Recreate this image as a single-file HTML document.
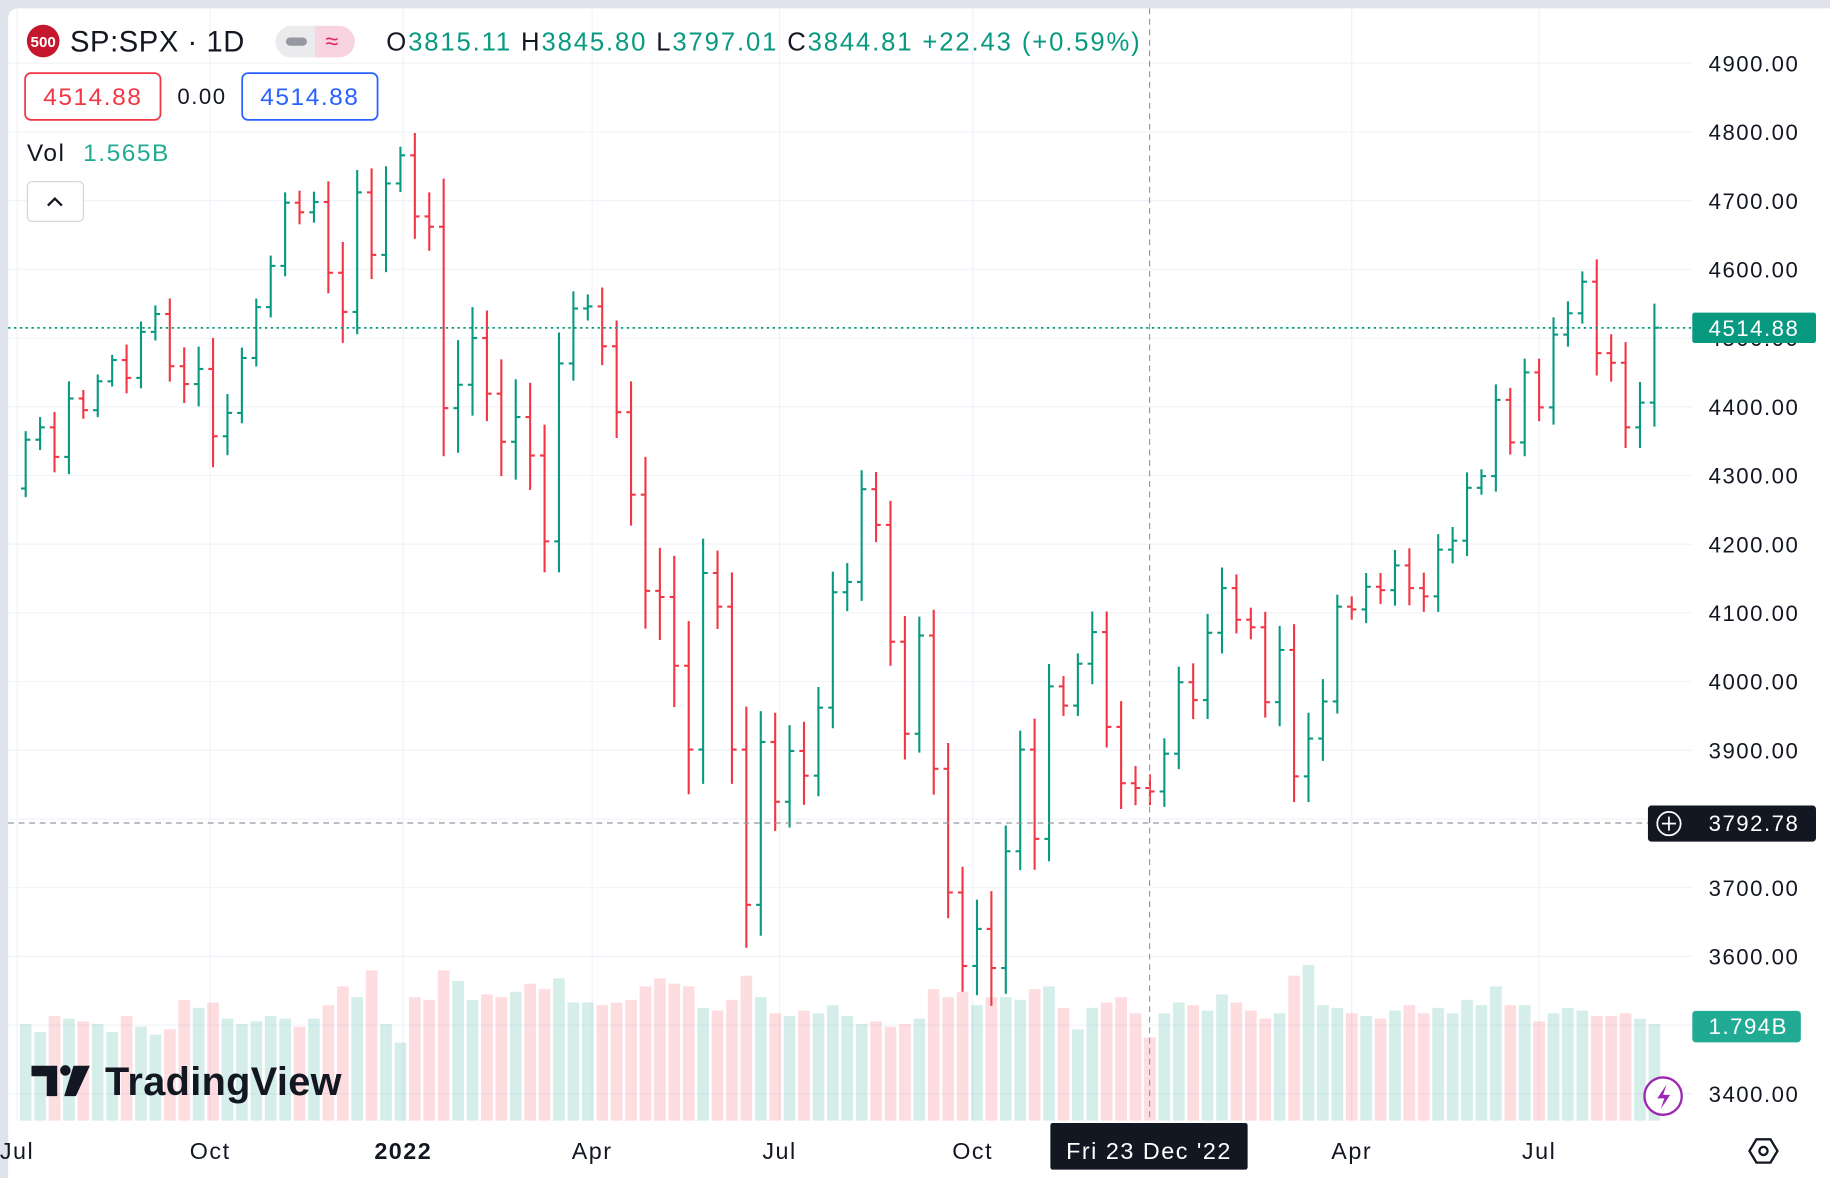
<!DOCTYPE html>
<html><head><meta charset="utf-8">
<style>
html,body{margin:0;padding:0;background:#e0e3eb;overflow:hidden}
svg{display:block;font-family:"Liberation Sans",sans-serif;letter-spacing:1.3px}
</style></head>
<body>
<svg id="c" width="1830" height="1178" viewBox="0 0 1568 1009" xmlns="http://www.w3.org/2000/svg">
<rect x="0" y="0" width="1568" height="1009" fill="#e0e3eb"/>
<rect x="7" y="7" width="1570" height="1010" rx="8" fill="#ffffff"/>
<g id="grid"></g>
<g id="vol"></g>
<g id="bars"></g>
<g id="yaxis"></g>
<g id="xaxis"></g>
<line x1="985" y1="7" x2="985" y2="960" stroke="#9598a1" stroke-width="1" stroke-dasharray="5,4"/>
<line x1="7" y1="705" x2="1450" y2="705" stroke="#9598a1" stroke-width="1" stroke-dasharray="5,4"/>
<line id="lastline" x1="7" x2="1450" stroke="#089981" stroke-width="1.5" stroke-dasharray="2,3"/>
<g id="lastlabel"></g>
<g>
<rect x="1412" y="690" width="144" height="31" rx="3" fill="#131722"/>
<circle cx="1430" cy="705.5" r="10" fill="none" stroke="#fff" stroke-width="1.5"/>
<line x1="1424" y1="705.5" x2="1436" y2="705.5" stroke="#fff" stroke-width="1.5"/>
<line x1="1430" y1="699.5" x2="1430" y2="711.5" stroke="#fff" stroke-width="1.5"/>
<text x="1464" y="712" font-size="19" fill="#fff">3792.78</text>
</g>
<g>
<rect x="1450" y="866" width="93" height="27" rx="3" fill="#22ab94"/>
<text x="1464" y="886" font-size="19" fill="#fff">1.794B</text>
</g>
<g>
<rect x="900" y="962" width="169" height="40" rx="2" fill="#131722"/>
<text x="984.5" y="993" font-size="20" fill="#fff" text-anchor="middle">Fri 23 Dec '22</text>
</g>
<g>
<circle cx="37" cy="35" r="14" fill="#c4162c"/>
<text x="37" y="40" font-size="13" font-weight="bold" fill="#fff" text-anchor="middle" letter-spacing="0">500</text>
<text x="60" y="44" font-size="25" fill="#131722" letter-spacing="0.5">SP:SPX · 1D</text>
<rect x="236" y="22" width="68" height="27" rx="13.5" fill="#ebebee"/>
<path d="M270 22 h20.5 a13.5 13.5 0 0 1 0 27 h-20.5z" fill="#f7d4e0"/>
<rect x="245" y="32" width="18" height="7" rx="3.5" fill="#9598a1"/>
<text x="285" y="42" font-size="20" fill="#e0245e" text-anchor="middle">≈</text>
<text x="331" y="43" font-size="22" fill="#131722" letter-spacing="1.6">O<tspan fill="#089981">3815.11</tspan> H<tspan fill="#089981">3845.80</tspan> L<tspan fill="#089981">3797.01</tspan> C<tspan fill="#089981">3844.81 +22.43 (+0.59%)</tspan></text>
</g>
<g>
<rect x="21.5" y="62.5" width="116" height="40" rx="5" fill="#fff" stroke="#f23645" stroke-width="1.5"/>
<text x="79.5" y="90" font-size="21" fill="#f23645" text-anchor="middle">4514.88</text>
<text x="152" y="89" font-size="19" fill="#131722">0.00</text>
<rect x="207.5" y="62.5" width="116" height="40" rx="5" fill="#fff" stroke="#2962ff" stroke-width="1.5"/>
<text x="265.5" y="90" font-size="21" fill="#2962ff" text-anchor="middle">4514.88</text>
</g>
<text x="23" y="138" font-size="21" fill="#131722">Vol <tspan dx="8" fill="#22ab94">1.565B</tspan></text>
<g>
<rect x="23.5" y="155.5" width="48" height="34" rx="4" fill="#fff" stroke="#d1d4dc"/>
<path d="M41 176 l6 -6 l6 6" fill="none" stroke="#131722" stroke-width="2"/>
</g>
<g>
<path d="M27 913 h22 v26 h-9 v-17 h-13z" fill="#131722"/>
<circle cx="56" cy="917" r="4.5" fill="#131722"/>
<path d="M63 913 h14 l-12 26 h-10z" fill="#131722"/>
<text x="90" y="938" font-size="34" font-weight="bold" fill="#131722" letter-spacing="0.3">TradingView</text>
</g>
<g>
<circle cx="1425" cy="939" r="16" fill="#fff" stroke="#9c27b0" stroke-width="2"/>
<path d="M1428 929 l-8 12 h6 l-3 9 l8 -12 h-6z" fill="#9c27b0"/>
</g>
<g>
<path d="M1499 986 l6 -10 h12 l6 10 l-6 10 h-12z" fill="none" stroke="#131722" stroke-width="2"/>
<circle cx="1511" cy="986" r="3.5" fill="none" stroke="#131722" stroke-width="2"/>
</g>
<script>
const startClose = 4281;
const closes = [4352,4370,4327,4412,4395,4437,4468,4442,4509,4535,4459,4433,4455,4357,4391,4471,4545,4605,4697,4683,4698,4595,4538,4712,4621,4725,4766,
4677,4662,4398,4432,4500,4419,4349,4385,4329,4204,4463,4543,4546,4488,4392,4272,4132,4123,4023,3901,4158,4109,3901,3675,3912,3825,3899,3863,3962,4130,4145,4280,4228,4058,3924,4067,3873,3693,3586,3640,3583,3753,3901,3771,3993,3965,4026,4072,3934,3852,3845,3840,
3895,3999,3973,4071,4136,4090,4079,3970,4046,3862,3917,3971,4109,4105,4138,4133,4169,4136,4124,4192,4205,4282,4299,4410,4348,4450,4399,4505,4536,4582,4478,4464,4370,4406,4515];
const ranges = [50,60,90,100,50,40,30,90,60,50,90,110,130,180,110,60,50,60,60,70,60,120,180,130,140,100,50,
130,140,280,260,180,160,200,220,200,180,180,100,70,110,150,180,220,250,240,260,200,130,200,250,180,170,150,170,120,120,110,110,100,140,150,110,150,150,150,170,220,150,110,180,130,60,60,120,120,150,100,80,
90,90,110,110,120,80,70,90,140,150,150,130,70,60,80,80,90,100,90,90,80,90,40,90,70,80,80,100,70,60,130,110,120,120,140];
const volumes = [3.6,3.3,3.9,3.8,3.7,3.6,3.3,3.9,3.5,3.2,3.4,4.5,4.2,4.4,3.8,3.6,3.7,3.9,3.8,3.5,3.8,4.3,5.0,4.6,5.6,3.6,2.9,
4.6,4.5,5.6,5.2,4.5,4.7,4.6,4.8,5.1,4.9,5.3,4.4,4.4,4.3,4.4,4.5,5.0,5.3,5.1,5.0,4.2,4.1,4.5,5.4,4.6,4.0,3.9,4.1,4.0,4.3,3.9,3.6,3.7,3.5,3.6,3.8,4.9,4.6,4.8,4.3,4.6,4.6,4.5,4.9,5.0,4.2,3.4,4.2,4.4,4.6,4.0,3.1,
4.0,4.4,4.3,4.1,4.7,4.4,4.1,3.8,4.0,5.4,5.8,4.3,4.2,4.0,3.9,3.8,4.1,4.3,4.0,4.2,4.0,4.5,4.3,5.0,4.3,4.3,3.7,4.0,4.2,4.1,3.9,3.9,4.0,3.8,3.6];
const priceTicks = [3400,3600,3700,3800,3900,4000,4100,4200,4300,4400,4500,4600,4700,4800,4900];
const timeLabels = ["Jul","Oct","2022","Apr","Jul","Oct","Apr","Jul"];
const timeLabelIdx = [-0.6,12.8,26.2,39.3,52.3,65.7,92,105];
const lastPrice = 4514.88;
const yScale = v => 54 + (4900 - v) * (883 / 1500);
const xScale = i => 22 + i * 12.35;
const volScale = v => 960 - v * 23;
const NS = "http://www.w3.org/2000/svg";
function mk(tag, parent, attrs){const e=document.createElementNS(NS,tag);for(const k in attrs)e.setAttribute(k,attrs[k]);parent.appendChild(e);return e;}
const grid=document.getElementById('grid'), yaxis=document.getElementById('yaxis'), xaxis=document.getElementById('xaxis');
const allTicks=[3400,3500,3600,3700,3800,3900,4000,4100,4200,4300,4400,4500,4600,4700,4800,4900];
allTicks.forEach(t=>{const l=mk('line',grid,{x1:7,x2:1450,y1:yScale(t),y2:yScale(t),stroke:'#f0f3fa','stroke-width':1});

});
priceTicks.forEach(t=>{const tx=mk('text',yaxis,{x:1464,y:yScale(t)+7,'font-size':19,fill:'#131722'});tx.textContent=t.toFixed(2);

});
timeLabels.forEach((s,k)=>{const x=xScale(timeLabelIdx[k]);
const l=mk('line',grid,{x1:x,x2:x,y1:7,y2:960,stroke:'#f0f3fa','stroke-width':1});


const tx=mk('text',xaxis,{x:x,y:993,'font-size':20,fill:'#131722','text-anchor':'middle','font-weight':s==='2022'?'bold':'normal'});tx.textContent=s;

});
const bars=document.getElementById('bars'), vol=document.getElementById('vol');
closes.forEach((c,i)=>{
  const o = i===0?startClose:closes[i-1];
  const r = ranges[i]/2;
  const hi=Math.max(o,c)+r*0.5, lo=Math.min(o,c)-r*0.5;
  const col = c>=o?'#089981':'#f23645';
  const x=xScale(i);
  const g=mk('g',bars,{stroke:col,'stroke-width':1.8});
  
  
  mk('line',g,{x1:x,x2:x,y1:yScale(hi),y2:yScale(lo)});
  mk('line',g,{x1:x-4,x2:x,y1:yScale(o),y2:yScale(o)});
  mk('line',g,{x1:x,x2:x+4,y1:yScale(c),y2:yScale(c)});
  const vr=mk('rect',vol,{x:x-5,y:volScale(volumes[i]),width:10,height:960-volScale(volumes[i]),fill:col,opacity:0.17});
  
  
});
const ll=document.getElementById('lastline');ll.setAttribute('y1',yScale(lastPrice));ll.setAttribute('y2',yScale(lastPrice));
const lb=document.getElementById('lastlabel');
mk('rect',lb,{x:1450,y:yScale(lastPrice)-13,width:106,height:26,rx:2,fill:'#089981'});
const lt=mk('text',lb,{x:1464,y:yScale(lastPrice)+7,'font-size':19,fill:'#fff'});lt.textContent=lastPrice.toFixed(2);
</script>
</svg>
</body></html>
